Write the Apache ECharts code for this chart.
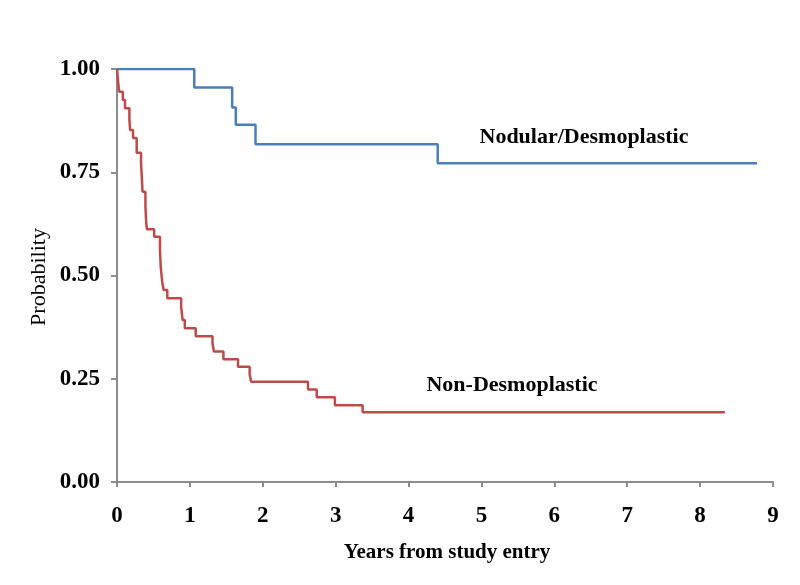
<!DOCTYPE html>
<html><head><meta charset="utf-8">
<script src="https://cdn.jsdelivr.net/npm/echarts@6/dist/echarts.min.js"></script>
<style>html,body{margin:0;padding:0;background:#fff}#c{width:800px;height:585px}</style>
</head><body><div id="c"></div>
<script>
const xTicks = [0,1,2,3,4,5,6,7,8,9];
const yTicks = [0, 0.25, 0.5, 0.75, 1];
const nodularYears = [0, 1.06, 1.58, 1.63, 1.90, 4.40, 8.78];
const nodularProb  = [1.0, 0.955, 0.907, 0.865, 0.818, 0.772, 0.772];
const nonDesYears = [0, 0.01, 0.02, 0.03, 0.08, 0.11, 0.17, 0.18, 0.22, 0.27, 0.33, 0.34, 0.35, 0.39, 0.40, 0.41, 0.51, 0.59, 0.60, 0.62, 0.64, 0.69, 0.88, 0.90, 0.93, 1.08, 1.31, 1.33, 1.46, 1.66, 1.82, 1.84, 2.62, 2.74, 2.99, 3.37, 8.34];
const nonDesProb  = [1.0, 0.98, 0.96, 0.945, 0.925, 0.905, 0.88, 0.852, 0.833, 0.797, 0.77, 0.74, 0.703, 0.667, 0.63, 0.612, 0.594, 0.56, 0.521, 0.485, 0.465, 0.445, 0.424, 0.392, 0.372, 0.353, 0.336, 0.316, 0.297, 0.279, 0.261, 0.243, 0.224, 0.205, 0.186, 0.169, 0.169];
const seriesNames = ['Nodular/Desmoplastic', 'Non-Desmoplastic'];

const pair = (xs, ys) => xs.map((x, i) => [x, ys[i]]);
const serif = '"Liberation Serif", "Times New Roman", serif';
const chart = echarts.init(document.getElementById('c'), null, {renderer: 'canvas'});
chart.setOption({
  animation: false,
  backgroundColor: '#fff',
  grid: {left: 117, right: 27, top: 69, bottom: 103, containLabel: false},
  xAxis: {
    type: 'value', min: 0, max: 9, interval: 1,
    axisLine: {lineStyle: {color: '#8c8c8c', width: 2}},
    axisTick: {show: true, length: 5, lineStyle: {color: '#8c8c8c', width: 2}},
    splitLine: {show: false},
    axisLabel: {fontFamily: serif, fontWeight: 'bold', fontSize: 23, color: '#000', margin: 23,
      formatter: v => xTicks.includes(v) ? String(v) : ''}
  },
  yAxis: {
    type: 'value', min: 0, max: 1, interval: 0.25,
    axisLine: {show: true, lineStyle: {color: '#8c8c8c', width: 2}},
    axisTick: {show: true, length: 6, lineStyle: {color: '#8c8c8c', width: 2}},
    splitLine: {show: false},
    axisLabel: {fontFamily: serif, fontWeight: 'bold', fontSize: 23, color: '#000', margin: 17,
      formatter: v => yTicks.includes(v) ? v.toFixed(2) : ''}
  },
  series: [
    {name: seriesNames[0], type: 'line', step: 'end', showSymbol: false, symbol: 'none',
     data: pair(nodularYears, nodularProb), lineStyle: {color: '#4A7EBB', width: 2.5}, z: 3},
    {name: seriesNames[1], type: 'line', step: 'end', showSymbol: false, symbol: 'none',
     data: pair(nonDesYears, nonDesProb), lineStyle: {color: '#BE4B48', width: 2.5}, z: 4}
  ],
  graphic: [
    {type: 'text', x: 584, y: 137, style: {text: seriesNames[0], font: 'bold 22px ' + serif, fill: '#000', align: 'center', verticalAlign: 'middle'}},
    {type: 'text', x: 512, y: 385, style: {text: seriesNames[1], font: 'bold 22px ' + serif, fill: '#000', align: 'center', verticalAlign: 'middle'}},
    {type: 'text', x: 447, y: 553, style: {text: 'Years from study entry', font: 'bold 21px ' + serif, fill: '#000', align: 'center', verticalAlign: 'middle'}},
    {type: 'text', x: 39, y: 277, rotation: Math.PI / 2, style: {text: 'Probability', font: '22px ' + serif, fill: '#000', align: 'center', verticalAlign: 'middle'}}
  ]
});
</script></body></html>
